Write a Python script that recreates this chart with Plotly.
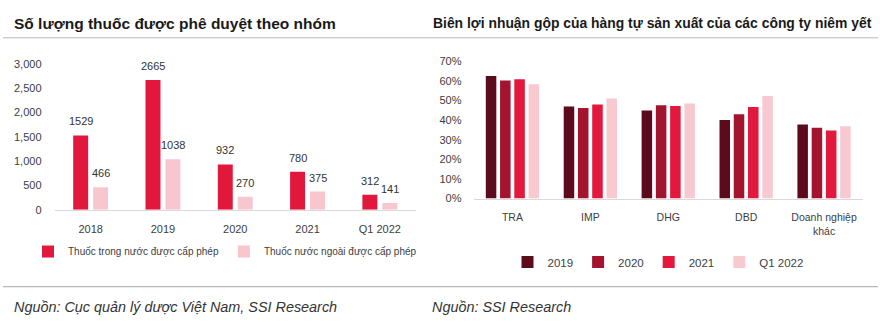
import plotly.graph_objects as go

# ---------------- data ----------------
left_categories = ["2018", "2019", "2020", "2021", "Q1 2022"]
left_domestic = [1529, 2665, 932, 780, 312]
left_foreign = [466, 1038, 270, 375, 141]
left_series_names = ["Thuốc trong nước được cấp phép", "Thuốc nước ngoài được cấp phép"]
left_yticks = [0, 500, 1000, 1500, 2000, 2500, 3000]
left_yticklabels = ["0", "500", "1,000", "1,500", "2,000", "2,500", "3,000"]

right_categories = ["TRA", "IMP", "DHG", "DBD", "Doanh nghiệp<br>khác"]
right_series_names = ["2019", "2020", "2021", "Q1 2022"]
right_2019 = [0.624, 0.469, 0.449, 0.400, 0.377]
right_2020 = [0.601, 0.462, 0.475, 0.430, 0.361]
right_2021 = [0.608, 0.479, 0.472, 0.466, 0.347]
right_q1_2022 = [0.582, 0.510, 0.484, 0.523, 0.368]
right_yticks = [0, 0.1, 0.2, 0.3, 0.4, 0.5, 0.6, 0.7]

left_title = "Số lượng thuốc được phê duyệt theo nhóm"
right_title = "Biên lợi nhuận gộp của hàng tự sản xuất của các công ty niêm yết"
left_source = "Nguồn: Cục quản lý dược Việt Nam, SSI Research"
right_source = "Nguồn: SSI Research"

# ---------------- style ----------------
W, H = 880, 323
FONT = "Liberation Sans, Arial, sans-serif"
TXT = "#404040"
left_colors = ["#e1173c", "#f7c6cf"]
right_colors = ["#5c0b1d", "#a3152f", "#e2183c", "#f8c9d1"]


def px_x(p):
    return p / W


def px_y(p):
    return 1 - p / H


fig = go.Figure()

# left chart bars
lw = 0.207
lcent = [-0.138, 0.138]
for k, (vals, name) in enumerate(zip([left_domestic, left_foreign], left_series_names)):
    xs = [i + lcent[k] for i in range(len(left_categories))]
    fig.add_trace(go.Bar(
        x=xs, y=vals, name=name, width=lw, marker=dict(color=left_colors[k], line=dict(width=0)),
        xaxis="x", yaxis="y", legend="legend", hoverinfo="skip"))
    for x, v in zip(xs, vals):
        fig.add_annotation(x=x, y=v, xref="x", yref="y", text=str(v), showarrow=False,
                           yshift=14, yanchor="middle", font=dict(family=FONT, size=11, color="#333333"))

# right chart bars
rw = 0.135
rstep = 0.183
for k, (vals, name) in enumerate(zip([right_2019, right_2020, right_2021, right_q1_2022], right_series_names)):
    c = (k - 1.5) * rstep
    xs = [i + c for i in range(len(right_categories))]
    fig.add_trace(go.Bar(
        x=xs, y=vals, name=name, width=rw, marker=dict(color=right_colors[k], line=dict(width=0)),
        xaxis="x2", yaxis="y2", legend="legend2", hoverinfo="skip"))

axis_common = dict(showgrid=False, zeroline=False, ticks="", fixedrange=True)

fig.update_layout(
    width=W, height=H, autosize=False,
    margin=dict(l=0, r=0, t=0, b=0),
    paper_bgcolor="white", plot_bgcolor="white",
    barmode="overlay",
    font=dict(family=FONT, size=11, color=TXT),
    xaxis=dict(domain=[px_x(54.5), px_x(416)], range=[-0.5, 4.5],
               tickvals=list(range(len(left_categories))), ticktext=left_categories,
               showline=True, linecolor="#d9d9d9", linewidth=1, anchor="y",
               tickfont=dict(family=FONT, size=11, color=TXT), ticklabelstandoff=9, **axis_common),
    yaxis=dict(domain=[px_y(211.7), px_y(60)], range=[0, 3000],
               tickvals=left_yticks, ticktext=left_yticklabels, showline=False, anchor="x",
               tickfont=dict(family=FONT, size=11, color=TXT), ticklabelstandoff=12, **axis_common),
    xaxis2=dict(domain=[px_x(473.5), px_x(863)], range=[-0.5, 4.5],
                tickvals=list(range(len(right_categories))), ticktext=right_categories,
                showline=True, linecolor="#d9d9d9", linewidth=1, anchor="y2",
                tickfont=dict(family=FONT, size=10.5, color=TXT), ticklabelstandoff=9, **axis_common),
    yaxis2=dict(domain=[px_y(200), px_y(57.3)], range=[0, 0.7],
                tickvals=right_yticks, tickformat=".0%", showline=False, anchor="x2",
                tickfont=dict(family=FONT, size=11, color=TXT), ticklabelstandoff=11, **axis_common),
    legend=dict(orientation="h", x=px_x(28), xanchor="left", y=px_y(255), yanchor="middle",
                font=dict(family=FONT, size=10, color=TXT), bgcolor="rgba(0,0,0,0)",
                traceorder="normal", itemclick=False, itemdoubleclick=False),
    legend2=dict(orientation="h", x=px_x(658), xanchor="center", y=px_y(266), yanchor="middle",
                 font=dict(family=FONT, size=11.5, color=TXT), bgcolor="rgba(0,0,0,0)",
                 traceorder="normal", itemclick=False, itemdoubleclick=False),
    showlegend=True,
)

# titles
fig.add_annotation(x=px_x(12), y=px_y(18), xref="paper", yref="paper", xanchor="left", yanchor="middle",
                   text="<b>" + left_title + "</b>", showarrow=False,
                   font=dict(family=FONT, size=15.5, color="#1a1a1a"))
fig.add_annotation(x=px_x(431), y=px_y(18), xref="paper", yref="paper", xanchor="left", yanchor="middle",
                   text="<b>" + right_title + "</b>", showarrow=False,
                   font=dict(family=FONT, size=13.9, color="#1a1a1a"))
# sources
fig.add_annotation(x=px_x(12), y=px_y(313), xref="paper", yref="paper", xanchor="left", yanchor="middle",
                   text="<i>" + left_source + "</i>", showarrow=False,
                   font=dict(family=FONT, size=14.4, color="#333333"))
fig.add_annotation(x=px_x(430), y=px_y(313), xref="paper", yref="paper", xanchor="left", yanchor="middle",
                   text="<i>" + right_source + "</i>", showarrow=False,
                   font=dict(family=FONT, size=14.4, color="#333333"))

# separator lines
for yy in (33, 291.5):
    fig.add_shape(type="line", xref="paper", yref="paper", x0=px_x(3), x1=px_x(878),
                  y0=px_y(yy), y1=px_y(yy), line=dict(color="#b8b8b8", width=1.2))

fig.write_html("out.html", config={"displayModeBar": False})
